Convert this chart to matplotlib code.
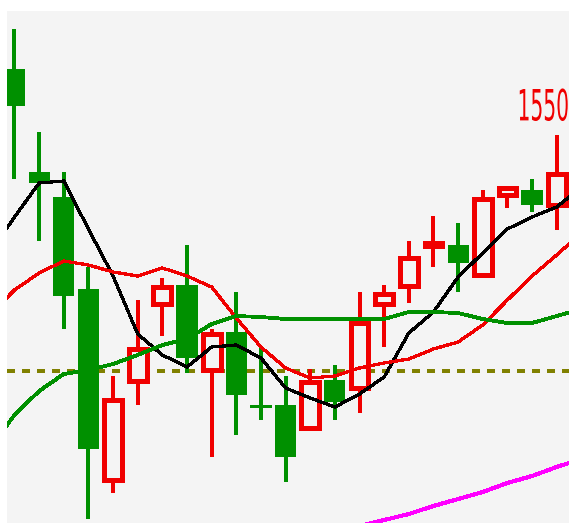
import matplotlib
matplotlib.use("Agg")
import matplotlib.pyplot as plt
import matplotlib.patheffects as pe
from matplotlib.patches import Rectangle
from matplotlib.transforms import Affine2D

# daily candles, oldest first
opens = [1583, 1531.5, 1519, 1473, 1376.5, 1426, 1464.5, 1475, 1431.5, 1451.5, 1414.5, 1415,
         1402.5, 1427.5, 1422.5, 1464.5, 1473.5, 1493.5, 1495, 1479, 1519, 1522.5, 1514]
closes = [1564.5, 1526, 1469.5, 1393, 1418.5, 1444, 1475, 1438.5, 1451.5, 1420, 1414, 1389,
          1427.5, 1416.5, 1457, 1471.5, 1489.5, 1497, 1486, 1519, 1524.5, 1515, 1531.5]
highs = [1603, 1551.5, 1531.5, 1484, 1429.5, 1467.5, 1478.5, 1495, 1453, 1471.5, 1444, 1429.5,
         1433, 1435, 1471.5, 1475, 1497, 1509.5, 1506, 1522.5, 1524.5, 1528, 1550]
lows = [1528, 1497, 1453, 1358, 1371, 1415, 1449.5, 1431, 1389, 1400, 1407.5, 1376.5,
        1402.5, 1407.5, 1411, 1444, 1466, 1484, 1471.5, 1479, 1513.5, 1511.5, 1502.5]

# moving averages (one point before and after the visible candles)
ma_index = list(range(-1, 24))
ma5 = [1491, 1509, 1526, 1527, 1503, 1479.5, 1450.5, 1440, 1434, 1444, 1445, 1438.5, 1423.5,
       1418.5, 1414, 1420.5, 1429, 1451, 1461.5, 1479, 1491, 1503, 1509, 1514, 1524]
ma10 = [1460, 1472.5, 1481, 1487, 1485, 1481.5, 1479.5, 1483.5, 1479.5, 1474, 1458.5, 1444, 1433.5,
        1428.5, 1429.5, 1433.5, 1436, 1438, 1443, 1446.5, 1455, 1467.5, 1479.5, 1490, 1501]
ma20 = [1393.5, 1410, 1422, 1430.5, 1432.5, 1435.5, 1440, 1445, 1448, 1455.5, 1459.5, 1459, 1458,
        1458, 1458, 1458, 1458, 1461.5, 1461.5, 1461, 1458, 1456, 1456, 1459.5, 1463]
ma60_index = list(range(14, 24))
ma60 = [1354.5, 1357.5, 1360.5, 1364.5, 1368, 1371.5, 1376, 1379.5, 1384, 1388]

ref_level = 1432
label_text = "1550"
label_price = 1557.3

BG = "#f4f4f4"
RED = "#f00000"
GREEN = "#009000"


class Squeeze(pe.AbstractPathEffect):
    # narrow the glyphs horizontally around a fixed x (display pixels)
    def __init__(self, sx, x0):
        super().__init__()
        self.sx = sx
        self.x0 = x0

    def draw_path(self, renderer, gc, tpath, affine, rgbFace=None):
        squeeze = Affine2D().translate(-self.x0, 0).scale(self.sx, 1).translate(self.x0, 0)
        renderer.draw_path(gc, tpath, affine + squeeze, rgbFace)


fig = plt.figure(figsize=(5.69, 5.23), dpi=100)
ax = fig.add_axes([7 / 569, 0, 562 / 569, 512 / 523])
ax.set_facecolor(BG)

# reference level, under the candles
ax.axhline(ref_level, color="#808000", lw=2.9, dashes=(1.75, 1.75), zorder=1, antialiased=False)

for i, (o, c, h, l) in enumerate(zip(opens, closes, highs, lows)):
    up = c >= o
    col = RED if up else GREEN
    ax.vlines(i, l, h, color=col, lw=1.5, zorder=2, antialiased=False)
    bottom, top = min(o, c), max(o, c)
    if up:
        # hollow body, edge drawn inside the open/close range
        ax.add_patch(Rectangle((i - 0.36, bottom + 0.87), 0.72, max(top - bottom - 1.74, 0.2),
                               facecolor=BG, edgecolor=col, lw=2.5, zorder=3, antialiased=False))
    else:
        hgt = max(top - bottom, 1.5)
        mid = (top + bottom) / 2
        ax.add_patch(Rectangle((i - 0.43, mid - hgt / 2), 0.86, hgt,
                               facecolor=col, edgecolor="none", zorder=3, antialiased=False))

ax.plot(ma_index, ma5, color="black", lw=1.6, zorder=4, antialiased=False)
ax.plot(ma_index, ma10, color=RED, lw=1.6, zorder=4, antialiased=False)
ax.plot(ma_index, ma20, color=GREEN, lw=2.0, zorder=4, antialiased=False)
ax.plot(ma60_index, ma60, color="#ff00ff", lw=2.2, zorder=4, antialiased=False)

ax.text(22.5, label_price, label_text, ha="right", va="baseline", color=RED, fontsize=31,
        family="DejaVu Sans", path_effects=[Squeeze(0.47, 569)])

ax.set_xlim(-0.304, 22.5)
ax.set_ylim(1356, 1612)
ax.set_xticks([])
ax.set_yticks([])
for s in ax.spines.values():
    s.set_visible(False)

fig.savefig("out.png", dpi=100)
